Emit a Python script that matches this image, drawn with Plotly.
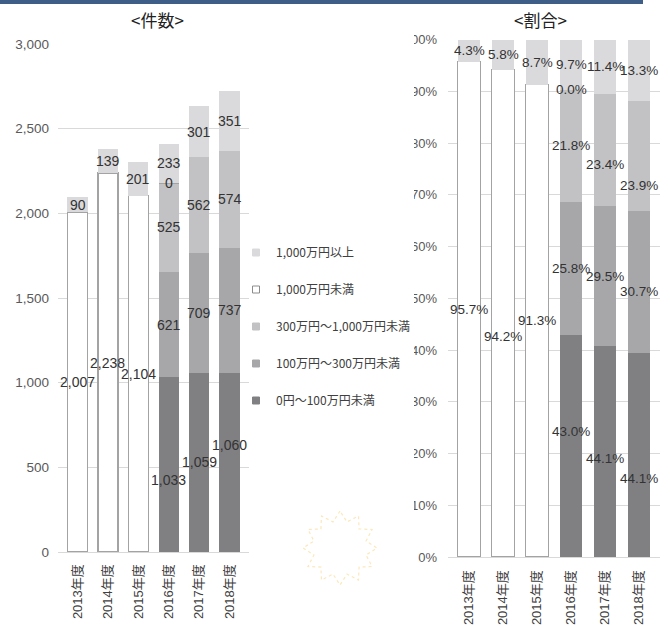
import math
import plotly.graph_objects as go

W, H = 670, 626

# Fiscal years on the category axis
years = ["2013年度", "2014年度", "2015年度", "2016年度", "2017年度", "2018年度"]

# Series names, bottom of the stack first
series_names = [
    "0円～100万円未満",
    "100万円～300万円未満",
    "300万円～1,000万円未満",
    "1,000万円未満",
    "1,000万円以上",
]

# Number of cases (件数)
cnt_0_100 = [None, None, None, 1033, 1059, 1060]
cnt_100_300 = [None, None, None, 621, 709, 737]
cnt_300_1000 = [None, None, None, 525, 562, 574]
cnt_lt_1000 = [2007, 2238, 2104, 0, None, None]
cnt_ge_1000 = [90, 139, 201, 233, 301, 351]

# Share of cases (割合, %)
pct_0_100 = [None, None, None, 43.0, 44.1, 44.1]
pct_100_300 = [None, None, None, 25.8, 29.5, 30.7]
pct_300_1000 = [None, None, None, 21.8, 23.4, 23.9]
pct_lt_1000 = [95.7, 94.2, 91.3, 0.0, None, None]
pct_ge_1000 = [4.3, 5.8, 8.7, 9.7, 11.4, 13.3]

count_series = [cnt_0_100, cnt_100_300, cnt_300_1000, cnt_lt_1000, cnt_ge_1000]
share_series = [pct_0_100, pct_100_300, pct_300_1000, pct_lt_1000, pct_ge_1000]

fills = ["#808083", "#a7a7aa", "#c2c2c4", "#ffffff", "#dadadc"]
edges = ["#808083", "#a7a7aa", "#c2c2c4", "#a3a3a3", "#dadadc"]
edge_w = [0, 0, 0, 1.3, 0]

FONT = "Liberation Sans, Arial, Noto Sans CJK JP, sans-serif"
LABEL_COLOR = "#333333"
TICK_COLOR = "#595959"
GRID = "#d9d9d9"

# Hand-placed data labels: pixel nudges (downwards) keyed by (axis, series, year index)
label_nudge = {
    ("x", 0, 3): 15, ("x", 0, 5): -17,
    ("x2", 0, 3): -15, ("x2", 0, 4): 7, ("x2", 0, 5): 23,
    ("x2", 1, 5): 9, ("x2", 2, 4): 15, ("x2", 2, 5): 29,
    ("x2", 3, 1): 23,
}


def px_x(v):
    return v / W


def px_y(v):
    return 1 - v / H


fig = go.Figure()
annotations = []


def add_stack(series, texts, xa, ya, fmt, size):
    """Stack the series on one subplot and label each segment at its middle."""
    base = [0.0] * len(years)
    for s, (name, vals, raw, fc, ec, ew) in enumerate(
            zip(series_names, series, texts, fills, edges, edge_w)):
        fig.add_trace(go.Bar(
            x=years, y=vals, name=name, xaxis=xa, yaxis=ya,
            marker=dict(color=fc, line=dict(color=ec, width=ew)),
            showlegend=False, hoverinfo="skip",
        ))
        for i, (v, r) in enumerate(zip(vals, raw)):
            if v is None:
                continue
            annotations.append(dict(
                x=years[i], y=base[i] + v / 2, xref=xa, yref=ya, text=fmt(r),
                showarrow=False, yshift=-label_nudge.get((xa, s, i), 0),
                font=dict(family=FONT, size=size, color=LABEL_COLOR),
            ))
            base[i] += v


# Left: counts
add_stack(count_series, count_series, "x", "y", lambda v: f"{v:,}", 14)

# Right: shares, each year normalised to 100 %
totals = [sum(s[i] for s in share_series if s[i] is not None) for i in range(len(years))]
share_norm = [[None if v is None else v / totals[i] * 100 for i, v in enumerate(s)]
              for s in share_series]
add_stack(share_norm, share_series, "x2", "y2", lambda v: f"{v:.1f}%", 13.5)

# Legend entries with small square swatches, top entry first
for name, fc in reversed(list(zip(series_names, fills))):
    fig.add_trace(go.Scatter(
        x=[None], y=[None], mode="markers", name=name, legendgroup=name,
        marker=dict(symbol="square", size=7, color=fc,
                    line=dict(color="#8c8c8c" if fc == "#ffffff" else fc, width=1)),
        xaxis="x", yaxis="y", hoverinfo="skip",
    ))

# Panel titles
for text, cx in (("&lt;件数&gt;", 157), ("&lt;割合&gt;", 540)):
    annotations.append(dict(
        x=px_x(cx), y=px_y(19), xref="paper", yref="paper", text=text,
        showarrow=False, xanchor="center", yanchor="middle",
        font=dict(family="Noto Sans CJK JP, " + FONT, size=17, color="#222222"),
    ))

# Decorative burst outline
cx, cy, r_out, r_in, n = 340, 548, 37, 27, 12
pts = []
for k in range(2 * n):
    ang = math.pi / 2 + k * math.pi / n
    rr = r_out if k % 2 == 0 else r_in
    pts.append((px_x(cx + rr * math.cos(ang)), px_y(cy - rr * math.sin(ang))))
star_path = "M " + " L ".join(f"{a:.5f},{b:.5f}" for a, b in pts) + " Z"

shapes = [
    # header band
    dict(type="rect", xref="paper", yref="paper", x0=0, x1=px_x(643), y0=px_y(4), y1=1,
         fillcolor="#3e5e88", line=dict(width=0), layer="above"),
    dict(type="path", xref="paper", yref="paper", path=star_path,
         line=dict(color="#fbe9bd", width=1.2, dash="dot"), layer="above"),
    # the percentage labels are cut off at the left edge of their panel
    dict(type="rect", xref="paper", yref="paper", x0=px_x(392), x1=px_x(414),
         y0=px_y(566), y1=px_y(28), fillcolor="#ffffff", line=dict(width=0), layer="above"),
]

axis_font = dict(family=FONT, size=13.5, color=TICK_COLOR)
cat_font = dict(family="Liberation Sans, Noto Sans CJK JP, sans-serif", size=13, color="#404040")

fig.update_layout(
    width=W, height=H,
    margin=dict(l=0, r=0, t=0, b=0, autoexpand=False),
    paper_bgcolor="white", plot_bgcolor="white",
    barmode="stack", bargap=0.34,
    font=dict(family=FONT, color=TICK_COLOR),
    xaxis=dict(domain=[px_x(58), px_x(249)], type="category", tickangle=-90,
               tickfont=cat_font, showgrid=False, showline=True, linecolor=GRID,
               ticks="", ticklabelstandoff=6, fixedrange=True, automargin=False),
    yaxis=dict(domain=[px_y(552), px_y(44)], range=[0, 3000], dtick=500, tickformat=",d",
               showgrid=True, gridcolor=GRID, zeroline=False, ticks="",
               tickfont=axis_font, ticklabelstandoff=8, fixedrange=True, automargin=False),
    xaxis2=dict(domain=[px_x(448), px_x(660)], type="category", tickangle=-90, anchor="y2",
                tickfont=cat_font, showgrid=False, showline=True, linecolor=GRID,
                ticks="", ticklabelstandoff=7, fixedrange=True, automargin=False),
    yaxis2=dict(domain=[px_y(557), px_y(39.5)], range=[0, 100], dtick=10, ticksuffix="%",
                anchor="x2", showgrid=True, gridcolor=GRID, zeroline=False, ticks="",
                tickfont=dict(family=FONT, size=13, color=TICK_COLOR),
                ticklabelstandoff=10, fixedrange=True, automargin=False),
    legend=dict(x=px_x(236), y=px_y(238), xanchor="left", yanchor="top",
                font=dict(family="Noto Sans CJK JP, " + FONT, size=12, color="#404040"),
                tracegroupgap=18, itemwidth=30, bgcolor="rgba(0,0,0,0)",
                traceorder="grouped"),
    annotations=annotations,
    shapes=shapes,
)

fig.write_html("out.html")
